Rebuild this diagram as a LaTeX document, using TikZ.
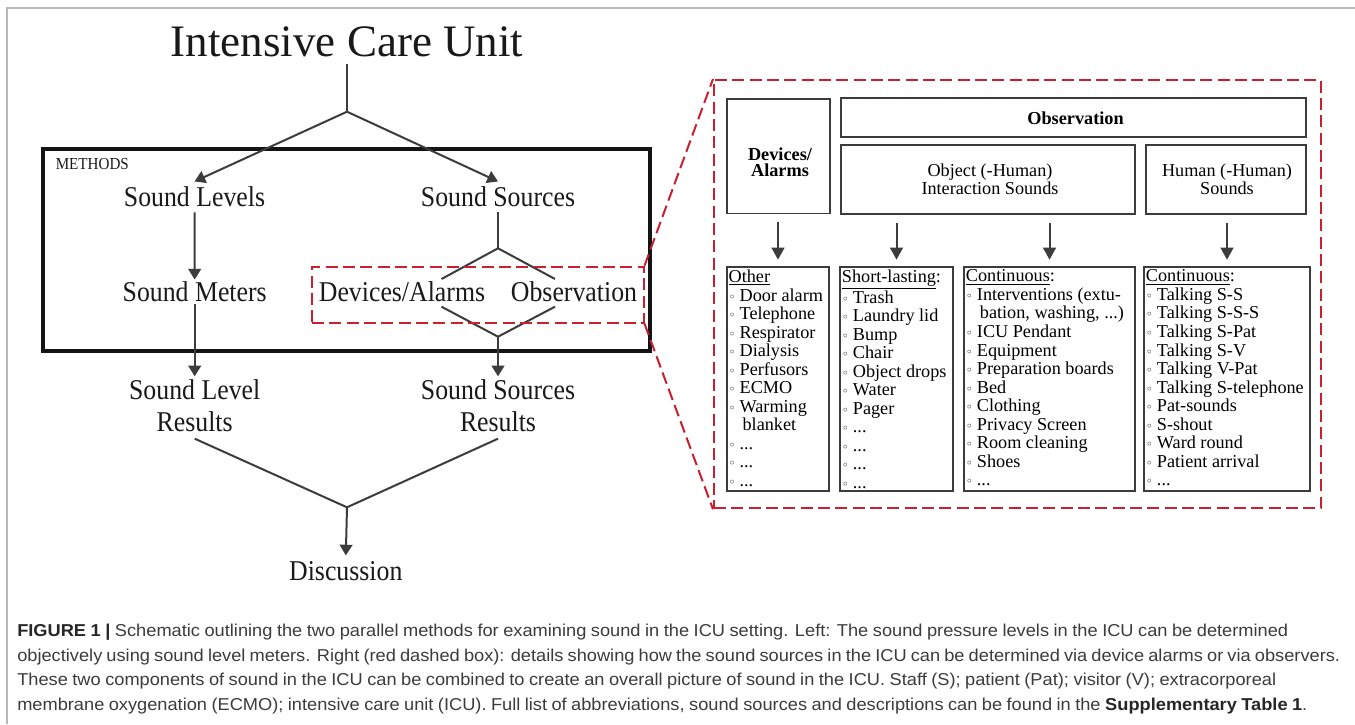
\documentclass[tikz,border=0pt]{standalone}
\usepackage{fontspec}
\setmainfont{Liberation Serif}
\newfontfamily\narrowserif{Liberation Serif}[FakeStretch=0.9]
\newfontfamily\capfont{Liberation Sans}[FakeStretch=1.06]
\newfontfamily\dejavu{DejaVu Sans}
\usetikzlibrary{arrows.meta,calc,fit}
\definecolor{redd}{RGB}{200,32,48}
\definecolor{lin}{RGB}{60,60,60}
\definecolor{captxt}{RGB}{60,60,60}
\newcommand\bul{\makebox[8.25pt][l]{\dejavu\fontsize{9}{9}\selectfont\char"25E6}}
\newcommand\contind{\hspace*{10.5pt}}
\begin{document}
\begin{tikzpicture}[x=0.75pt,y=-0.75pt,
  lbl/.style={font={\narrowserif\fontsize{21.5}{24}\selectfont}, inner xsep=0pt, anchor=base, text=black!90},
  ln/.style={draw=lin, line width=1.5pt},
  arr/.style={ln, -{Triangle[width=9.5pt,length=8pt]}},
  rarr/.style={ln, -{Triangle[width=9.5pt,length=9pt]}, shorten <=6pt, shorten >=5pt},
  reddash/.style={draw=redd, line width=1.5pt, dash pattern=on 9pt off 4pt},
  rbox/.style={draw=lin, line width=1.4pt, inner sep=0pt},
  hdr/.style={font={\bfseries\fontsize{13.7}{12}\selectfont}},
  plaintxt/.style={font={\fontsize{13.65}{13.9}\selectfont}},
  listtxt/.style={font={\fontsize{13.65}{13.9}\selectfont}, align=left, inner sep=0pt, anchor=north west},
  captext/.style={font={\capfont\fontsize{12.9}{15}\selectfont}, text=captxt, inner sep=0pt, anchor=base west}
]
\useasboundingbox (0,0) rectangle (1355,724);
\fill[white] (0,0) rectangle (1355,724);
% outer frame (cropped)
\draw[gray!55, line width=1.1pt] (7,724) -- (7,8) -- (1355,8);

% ---------------- left diagram ----------------
\node[font={\fontsize{33.75}{40}\selectfont}, inner xsep=0pt, inner ysep=4.9pt, anchor=base, text=black!90] (icu) at (347,56.7) {Intensive Care Unit};
\coordinate (j1) at (347,111.7);
\node[lbl, inner ysep=3.8pt] (lev) at (194.5,206.7) {Sound Levels};
\node[lbl, inner ysep=3.8pt] (src) at (498,206.7) {Sound Sources};
\node[lbl, inner ysep=1.5pt] (met) at (194.7,301.7) {Sound Meters};
\node[lbl] (da) at (402,301.7) {Devices/Alarms};
\node[lbl] (ob) at (574,301.7) {Observation};
\node[lbl, inner ysep=2.25pt] (slr1) at (194.7,399.5) {Sound Level};
\node[lbl, inner ysep=5.2pt] (slr2) at (194.7,431.2) {Results};
\node[lbl, inner ysep=2.25pt] (ssr1) at (498,399.5) {Sound Sources};
\node[lbl, inner ysep=5.2pt] (ssr2) at (498,431.2) {Results};
\node[lbl, inner ysep=4pt] (dis) at (345.8,580) {Discussion};

\node[draw=black!92, line width=3pt, inner sep=0pt, fit={(43.4,149) (650,350.7)}] (meth) {};
\node[font={\narrowserif\fontsize{12.6}{14}\selectfont}, inner sep=0pt, anchor=base west, text=black!90] (mlab) at (55.5,169.3) {METHODS};

\draw[ln] (icu.south) -- (j1);
\draw[arr] (j1) -- (lev.north);
\draw[arr] (j1) -- (src.north);
\draw[arr] (lev.south) -- (met.north);

\coordinate (j2) at (498,248.3);
\coordinate (da1) at (441.5,279);
\coordinate (ob1) at (555,279);
\coordinate (da2) at (441.5,306.7);
\coordinate (ob2) at (555,306.7);
\coordinate (j4) at (498,336.7);
\draw[ln] (src.south) -- (j2);
\draw[ln] (j2) -- (da1);
\draw[ln] (j2) -- (ob1);
\draw[ln] (da2) -- (j4);
\draw[ln] (ob2) -- (j4);
\draw[arr] (j4) -- (ssr1.north);
\draw[arr] (met.south) -- (slr1.north);

\coordinate (j5) at (347,507.3);
\draw[ln] (slr2.south) -- (j5);
\draw[ln] (ssr2.south) -- (j5);
\draw[arr] (j5) -- (dis.north);

\node[reddash, inner sep=0pt, fit={(312,266.7) (643.5,322.7)}] (small) {};

% ---------------- right panel ----------------
\node[reddash, inner sep=0pt, fit={(714,80) (1321,508.3)}] (big) {};
\draw[reddash] (small.north east) -- (big.north west);
\draw[reddash] (small.south east) -- (big.south west);

\node[rbox, fit={(727,99) (830,213.5)}] (dev) {};
\node[hdr, align=center, inner sep=0pt] (devt) at (780,162.5) {Devices/\\Alarms};
\node[rbox, fit={(841,98.3) (1306,137.3)}] (obs) {};
\node[hdr, inner sep=0pt] (obst) at (1075.5,118.3) {Observation};
\node[rbox, fit={(841,145.3) (1135,214)}] (obj) {};
\node[plaintxt, align=center, inner sep=0pt] (objt) at (990,179.3) {Object (-Human)\\Interaction Sounds};
\node[rbox, fit={(1146,145.3) (1306,214)}] (hum) {};
\node[plaintxt, align=center, inner sep=0pt] (humt) at (1227,179.3) {Human (-Human)\\Sounds};

\node[rbox, fit={(726.7,267.3) (829.3,490.7)}] (oth) {};
\node[rbox, fit={(840,267.3) (953,490.7)}] (sho) {};
\node[rbox, fit={(964,267.3) (1135,490.7)}] (con) {};
\node[rbox, fit={(1144,267.3) (1310,490.7)}] (hcon) {};

\draw[rarr] (dev.south -| oth.north) -- (oth.north);
\draw[rarr] (obj.south -| sho.north) -- (sho.north);
\draw[rarr] (obj.south -| con.north) -- (con.north);
\draw[rarr] (hum.south -| hcon.north) -- (hcon.north);

\node[listtxt] (otht) at ($(oth.north west)+(2.6,3.2)$) {\underline{Other}\\
\bul Door alarm\\ \bul Telephone\\ \bul Respirator\\ \bul Dialysis\\ \bul Perfusors\\ \bul ECMO\\ \bul Warming\\ \contind blanket\\ \bul ...\\ \bul ...\\ \bul ...};
\node[listtxt] (shot) at ($(sho.north west)+(2.6,3.2)$) {\underline{Short-lasting}:\\
\bul Trash\\ \bul Laundry lid\\ \bul Bump\\ \bul Chair\\ \bul Object drops\\ \bul Water\\ \bul Pager\\ \bul ...\\ \bul ...\\ \bul ...\\ \bul ...};
\node[listtxt] (cont) at ($(con.north west)+(2.6,3.2)$) {\underline{Continuous}:\\
\bul Interventions (extu-\\ \contind bation, washing, ...)\\ \bul ICU Pendant\\ \bul Equipment\\ \bul Preparation boards\\ \bul Bed\\ \bul Clothing\\ \bul Privacy Screen\\ \bul Room cleaning\\ \bul Shoes\\ \bul ...};
\node[listtxt] (hcont) at ($(hcon.north west)+(2.6,3.2)$) {\underline{Continuous}:\\
\bul Talking S-S\\ \bul Talking S-S-S\\ \bul Talking S-Pat\\ \bul Talking S-V\\ \bul Talking V-Pat\\ \bul Talking S-telephone\\ \bul Pat-sounds\\ \bul S-shout\\ \bul Ward round\\ \bul Patient arrival\\ \bul ...};

% ---------------- caption ----------------
\node[captext] (c1) at (17,636.5) {\makebox[953.25pt][s]{{\bfseries\color{black!85}FIGURE 1 |} Schematic outlining the two parallel methods for examining sound in the ICU setting. Left: The sound pressure levels in the ICU can be determined}};
\node[captext] (c2) at (17,661) {\makebox[992.25pt][s]{objectively using sound level meters. Right (red dashed box): details showing how the sound sources in the ICU can be determined via device alarms or via observers.}};
\node[captext] (c3) at (17,685.5) {\makebox[944.25pt][s]{These two components of sound in the ICU can be combined to create an overall picture of sound in the ICU. Staff (S); patient (Pat); visitor (V); extracorporeal}};
\node[captext] (c4) at (17,710) {\makebox[967.5pt][s]{membrane oxygenation (ECMO); intensive care unit (ICU). Full list of abbreviations, sound sources and descriptions can be found in the {\bfseries\color{black!85}Supplementary Table 1}.}};
\end{tikzpicture}
\end{document}
